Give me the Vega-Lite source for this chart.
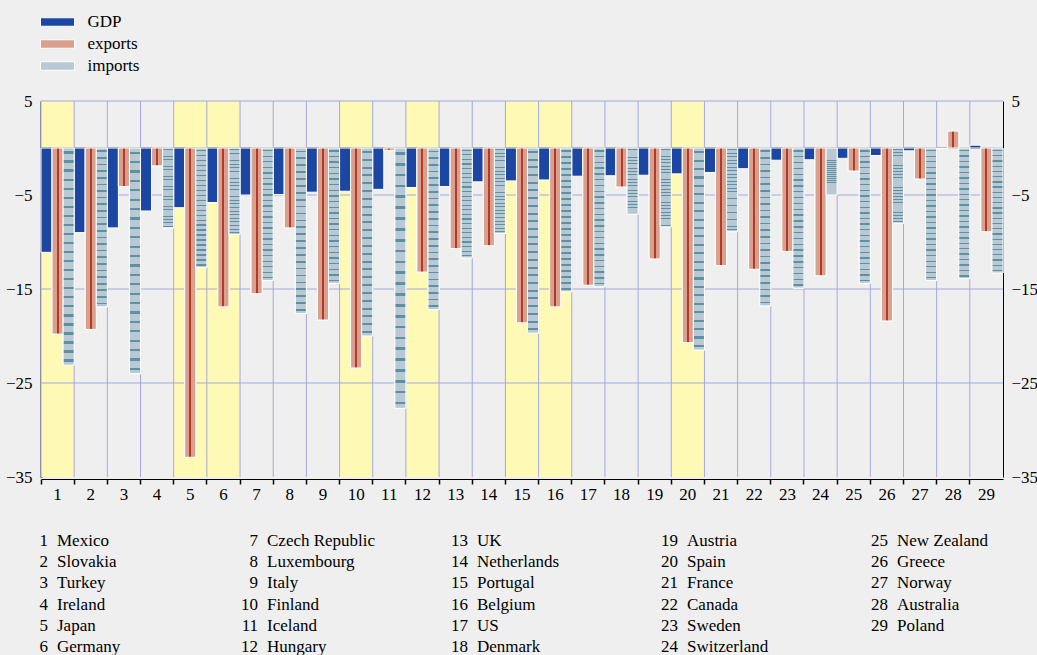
{
  "$schema": "https://vega.github.io/schema/vega-lite/v6.json",
  "background": "#efefef",
  "padding": {"left": 5, "top": 13, "right": 4, "bottom": 0},
  "config": {
    "font": "Liberation Serif",
    "view": {"stroke": null},
    "axis": {"labelFont": "Liberation Serif", "labelFontSize": 17, "labelColor": "black"},
    "legend": {
      "orient": "none", "legendX": 7.5, "legendY": -88, "title": null, "padding": 0,
      "labelFont": "Liberation Serif", "labelFontSize": 17, "labelColor": "black",
      "symbolType": "M-2,-0.5H2V0.5H-2Z", "symbolSize": 289, "rowPadding": 5, "labelOffset": 21,
      "symbolStrokeColor": "white", "symbolStrokeWidth": 1, "symbolOpacity": 1
    }
  },
  "datasets": {
    "countries": [
      {"num": 1, "name": "Mexico", "hl": true},
      {"num": 2, "name": "Slovakia", "hl": false},
      {"num": 3, "name": "Turkey", "hl": false},
      {"num": 4, "name": "Ireland", "hl": false},
      {"num": 5, "name": "Japan", "hl": true},
      {"num": 6, "name": "Germany", "hl": true},
      {"num": 7, "name": "Czech Republic", "hl": false},
      {"num": 8, "name": "Luxembourg", "hl": false},
      {"num": 9, "name": "Italy", "hl": false},
      {"num": 10, "name": "Finland", "hl": true},
      {"num": 11, "name": "Iceland", "hl": false},
      {"num": 12, "name": "Hungary", "hl": true},
      {"num": 13, "name": "UK", "hl": false},
      {"num": 14, "name": "Netherlands", "hl": false},
      {"num": 15, "name": "Portugal", "hl": true},
      {"num": 16, "name": "Belgium", "hl": true},
      {"num": 17, "name": "US", "hl": false},
      {"num": 18, "name": "Denmark", "hl": false},
      {"num": 19, "name": "Austria", "hl": false},
      {"num": 20, "name": "Spain", "hl": true},
      {"num": 21, "name": "France", "hl": false},
      {"num": 22, "name": "Canada", "hl": false},
      {"num": 23, "name": "Sweden", "hl": false},
      {"num": 24, "name": "Switzerland", "hl": false},
      {"num": 25, "name": "New Zealand", "hl": false},
      {"num": 26, "name": "Greece", "hl": false},
      {"num": 27, "name": "Norway", "hl": false},
      {"num": 28, "name": "Australia", "hl": false},
      {"num": 29, "name": "Poland", "hl": false}
    ],
    "bars": [
      {"num": 1, "series": "GDP", "value": -11.1}, {"num": 1, "series": "exports", "value": -19.8}, {"num": 1, "series": "imports", "value": -23.1},
      {"num": 2, "series": "GDP", "value": -9.0}, {"num": 2, "series": "exports", "value": -19.3}, {"num": 2, "series": "imports", "value": -16.9},
      {"num": 3, "series": "GDP", "value": -8.5}, {"num": 3, "series": "exports", "value": -4.1}, {"num": 3, "series": "imports", "value": -24.0},
      {"num": 4, "series": "GDP", "value": -6.7}, {"num": 4, "series": "exports", "value": -1.9}, {"num": 4, "series": "imports", "value": -8.5},
      {"num": 5, "series": "GDP", "value": -6.35}, {"num": 5, "series": "exports", "value": -32.9}, {"num": 5, "series": "imports", "value": -12.7},
      {"num": 6, "series": "GDP", "value": -5.8}, {"num": 6, "series": "exports", "value": -16.9}, {"num": 6, "series": "imports", "value": -9.2},
      {"num": 7, "series": "GDP", "value": -5.0}, {"num": 7, "series": "exports", "value": -15.5}, {"num": 7, "series": "imports", "value": -14.1},
      {"num": 8, "series": "GDP", "value": -4.95}, {"num": 8, "series": "exports", "value": -8.5}, {"num": 8, "series": "imports", "value": -17.6},
      {"num": 9, "series": "GDP", "value": -4.7}, {"num": 9, "series": "exports", "value": -18.3}, {"num": 9, "series": "imports", "value": -14.4},
      {"num": 10, "series": "GDP", "value": -4.6}, {"num": 10, "series": "exports", "value": -23.4}, {"num": 10, "series": "imports", "value": -20.0},
      {"num": 11, "series": "GDP", "value": -4.4}, {"num": 11, "series": "exports", "value": -0.25}, {"num": 11, "series": "imports", "value": -27.7},
      {"num": 12, "series": "GDP", "value": -4.2}, {"num": 12, "series": "exports", "value": -13.2}, {"num": 12, "series": "imports", "value": -17.2},
      {"num": 13, "series": "GDP", "value": -4.1}, {"num": 13, "series": "exports", "value": -10.7}, {"num": 13, "series": "imports", "value": -11.7},
      {"num": 14, "series": "GDP", "value": -3.6}, {"num": 14, "series": "exports", "value": -10.4}, {"num": 14, "series": "imports", "value": -9.1},
      {"num": 15, "series": "GDP", "value": -3.5}, {"num": 15, "series": "exports", "value": -18.6}, {"num": 15, "series": "imports", "value": -19.7},
      {"num": 16, "series": "GDP", "value": -3.4}, {"num": 16, "series": "exports", "value": -16.9}, {"num": 16, "series": "imports", "value": -15.3},
      {"num": 17, "series": "GDP", "value": -3.0}, {"num": 17, "series": "exports", "value": -14.6}, {"num": 17, "series": "imports", "value": -14.75},
      {"num": 18, "series": "GDP", "value": -2.95}, {"num": 18, "series": "exports", "value": -4.15}, {"num": 18, "series": "imports", "value": -7.05},
      {"num": 19, "series": "GDP", "value": -2.9}, {"num": 19, "series": "exports", "value": -11.8}, {"num": 19, "series": "imports", "value": -8.4},
      {"num": 20, "series": "GDP", "value": -2.75}, {"num": 20, "series": "exports", "value": -20.7}, {"num": 20, "series": "imports", "value": -21.5},
      {"num": 21, "series": "GDP", "value": -2.6}, {"num": 21, "series": "exports", "value": -12.5}, {"num": 21, "series": "imports", "value": -8.9},
      {"num": 22, "series": "GDP", "value": -2.2}, {"num": 22, "series": "exports", "value": -12.9}, {"num": 22, "series": "imports", "value": -16.8},
      {"num": 23, "series": "GDP", "value": -1.3}, {"num": 23, "series": "exports", "value": -11.0}, {"num": 23, "series": "imports", "value": -14.9},
      {"num": 24, "series": "GDP", "value": -1.25}, {"num": 24, "series": "exports", "value": -13.6}, {"num": 24, "series": "imports", "value": -5.0},
      {"num": 25, "series": "GDP", "value": -1.1}, {"num": 25, "series": "exports", "value": -2.45}, {"num": 25, "series": "imports", "value": -14.4},
      {"num": 26, "series": "GDP", "value": -0.8}, {"num": 26, "series": "exports", "value": -18.4}, {"num": 26, "series": "imports", "value": -8.0},
      {"num": 27, "series": "GDP", "value": -0.3}, {"num": 27, "series": "exports", "value": -3.3}, {"num": 27, "series": "imports", "value": -14.1},
      {"num": 28, "series": "GDP", "value": -0.05}, {"num": 28, "series": "exports", "value": 1.8}, {"num": 28, "series": "imports", "value": -13.9},
      {"num": 29, "series": "GDP", "value": 0.3}, {"num": 29, "series": "exports", "value": -8.9}, {"num": 29, "series": "imports", "value": -13.3}
    ]
  },
  "vconcat": [
    {
      "width": 962,
      "height": 376,
      "resolve": {"axis": {"y": "independent"}},
      "layer": [
        {
          "data": {"name": "countries"},
          "transform": [{"filter": "datum.hl"}],
          "mark": {"type": "rect", "fill": "#fef9b4"},
          "encoding": {
            "x": {
              "field": "num", "type": "ordinal", "title": null,
              "scale": {"paddingInner": 0, "paddingOuter": 0},
              "axis": {"title": null, "orient": "bottom", "labelAngle": 0, "ticks": true, "tickColor": "black", "tickSize": 5, "tickWidth": 1.5, "domainColor": "black", "domainWidth": 1, "grid": false, "labelPadding": 2, "offset": 2, "labelFontSize": 17, "bandPosition": 0}
            },
            "y": {"datum": 5, "type": "quantitative", "axis": null},
            "y2": {"datum": -35}
          }
        },
        {
          "data": {"name": "countries"},
          "mark": {"type": "rule", "color": "#a3a9e0", "strokeWidth": 1},
          "encoding": {
            "x": {"field": "num", "type": "ordinal", "bandPosition": 0},
            "y": {"datum": 5, "type": "quantitative", "axis": null},
            "y2": {"datum": -35}
          }
        },
        {"data": {"values": [{}]}, "mark": {"type": "rule", "color": "#a3a9e0", "strokeWidth": 1}, "encoding": {"y": {"datum": 5, "type": "quantitative", "axis": null}}},
        {"data": {"values": [{}]}, "mark": {"type": "rule", "color": "#a3a9e0", "strokeWidth": 1}, "encoding": {"y": {"datum": -5, "type": "quantitative", "axis": null}}},
        {"data": {"values": [{}]}, "mark": {"type": "rule", "color": "#a3a9e0", "strokeWidth": 1}, "encoding": {"y": {"datum": -15, "type": "quantitative", "axis": null}}},
        {"data": {"values": [{}]}, "mark": {"type": "rule", "color": "#a3a9e0", "strokeWidth": 1}, "encoding": {"y": {"datum": -25, "type": "quantitative", "axis": null}}},
        {"data": {"values": [{}]}, "mark": {"type": "rule", "color": "#444444", "strokeWidth": 1.5}, "encoding": {"y": {"datum": 0, "type": "quantitative", "axis": null}}},
        {
          "data": {"name": "bars"},
          "mark": {"type": "bar", "stroke": "white", "strokeWidth": 1},
          "encoding": {
            "x": {"field": "num", "type": "ordinal"},
            "xOffset": {"field": "series", "type": "nominal", "scale": {"domain": ["GDP", "exports", "imports"], "paddingInner": 0, "paddingOuter": 0}},
            "y": {
              "field": "value", "type": "quantitative",
              "scale": {"domain": [-35, 5], "nice": false, "zero": true},
              "axis": {"title": null, "orient": "left", "values": [5, -5, -15, -25, -35], "grid": false, "ticks": false, "domainColor": "black", "domainWidth": 2, "labelPadding": 9, "labelFlush": false, "labelFontSize": 17}
            },
            "fill": {
              "field": "series", "type": "nominal",
              "scale": {"domain": ["GDP", "exports", "imports"], "range": ["#1b46a2", "#d9a08d", "#b9c9d3"]},
              "legend": {}
            }
          }
        },
        {
          "data": {"name": "bars"},
          "transform": [{"filter": "datum.series === 'exports'"}],
          "mark": {
            "type": "bar", "stroke": "white", "strokeWidth": 1,
            "fill": {"gradient": "linear", "x1": 0, "y1": 0, "x2": 1, "y2": 0, "stops": [
              {"offset": 0, "color": "#d9a08d"}, {"offset": 0.41, "color": "#d9a08d"},
              {"offset": 0.41, "color": "#b3392a"}, {"offset": 0.59, "color": "#b3392a"},
              {"offset": 0.59, "color": "#d9a08d"}, {"offset": 1, "color": "#d9a08d"}
            ]}
          },
          "encoding": {
            "x": {"field": "num", "type": "ordinal"},
            "xOffset": {"field": "series", "type": "nominal"},
            "y": {
              "field": "value", "type": "quantitative",
              "axis": {"title": null, "orient": "right", "values": [5, -5, -15, -25, -35], "grid": false, "ticks": false, "domainColor": "black", "domainWidth": 1, "labelPadding": 8, "labelFlush": false, "labelFontSize": 17}
            }
          }
        },
        {
          "data": {"name": "bars"},
          "transform": [{"filter": "datum.series === 'imports'"}],
          "mark": {
            "type": "bar", "stroke": "white", "strokeWidth": 1,
            "fill": {"gradient": "linear", "x1": 0, "y1": 0, "x2": 0, "y2": 1, "stops": [
              {"offset": 0, "color": "#b9c9d3"},
              {"offset": 0.0156, "color": "#b9c9d3"}, {"offset": 0.0156, "color": "#5d90a2"}, {"offset": 0.026, "color": "#5d90a2"}, {"offset": 0.026, "color": "#b9c9d3"},
              {"offset": 0.0573, "color": "#b9c9d3"}, {"offset": 0.0573, "color": "#5d90a2"}, {"offset": 0.0677, "color": "#5d90a2"}, {"offset": 0.0677, "color": "#b9c9d3"},
              {"offset": 0.099, "color": "#b9c9d3"}, {"offset": 0.099, "color": "#5d90a2"}, {"offset": 0.1094, "color": "#5d90a2"}, {"offset": 0.1094, "color": "#b9c9d3"},
              {"offset": 0.1406, "color": "#b9c9d3"}, {"offset": 0.1406, "color": "#5d90a2"}, {"offset": 0.151, "color": "#5d90a2"}, {"offset": 0.151, "color": "#b9c9d3"},
              {"offset": 0.1823, "color": "#b9c9d3"}, {"offset": 0.1823, "color": "#5d90a2"}, {"offset": 0.1927, "color": "#5d90a2"}, {"offset": 0.1927, "color": "#b9c9d3"},
              {"offset": 0.224, "color": "#b9c9d3"}, {"offset": 0.224, "color": "#5d90a2"}, {"offset": 0.2344, "color": "#5d90a2"}, {"offset": 0.2344, "color": "#b9c9d3"},
              {"offset": 0.2656, "color": "#b9c9d3"}, {"offset": 0.2656, "color": "#5d90a2"}, {"offset": 0.276, "color": "#5d90a2"}, {"offset": 0.276, "color": "#b9c9d3"},
              {"offset": 0.3073, "color": "#b9c9d3"}, {"offset": 0.3073, "color": "#5d90a2"}, {"offset": 0.3177, "color": "#5d90a2"}, {"offset": 0.3177, "color": "#b9c9d3"},
              {"offset": 0.349, "color": "#b9c9d3"}, {"offset": 0.349, "color": "#5d90a2"}, {"offset": 0.3594, "color": "#5d90a2"}, {"offset": 0.3594, "color": "#b9c9d3"},
              {"offset": 0.3906, "color": "#b9c9d3"}, {"offset": 0.3906, "color": "#5d90a2"}, {"offset": 0.401, "color": "#5d90a2"}, {"offset": 0.401, "color": "#b9c9d3"},
              {"offset": 0.4323, "color": "#b9c9d3"}, {"offset": 0.4323, "color": "#5d90a2"}, {"offset": 0.4427, "color": "#5d90a2"}, {"offset": 0.4427, "color": "#b9c9d3"},
              {"offset": 0.474, "color": "#b9c9d3"}, {"offset": 0.474, "color": "#5d90a2"}, {"offset": 0.4844, "color": "#5d90a2"}, {"offset": 0.4844, "color": "#b9c9d3"},
              {"offset": 0.5156, "color": "#b9c9d3"}, {"offset": 0.5156, "color": "#5d90a2"}, {"offset": 0.526, "color": "#5d90a2"}, {"offset": 0.526, "color": "#b9c9d3"},
              {"offset": 0.5573, "color": "#b9c9d3"}, {"offset": 0.5573, "color": "#5d90a2"}, {"offset": 0.5677, "color": "#5d90a2"}, {"offset": 0.5677, "color": "#b9c9d3"},
              {"offset": 0.599, "color": "#b9c9d3"}, {"offset": 0.599, "color": "#5d90a2"}, {"offset": 0.6094, "color": "#5d90a2"}, {"offset": 0.6094, "color": "#b9c9d3"},
              {"offset": 0.6406, "color": "#b9c9d3"}, {"offset": 0.6406, "color": "#5d90a2"}, {"offset": 0.651, "color": "#5d90a2"}, {"offset": 0.651, "color": "#b9c9d3"},
              {"offset": 0.6823, "color": "#b9c9d3"}, {"offset": 0.6823, "color": "#5d90a2"}, {"offset": 0.6927, "color": "#5d90a2"}, {"offset": 0.6927, "color": "#b9c9d3"},
              {"offset": 0.724, "color": "#b9c9d3"}, {"offset": 0.724, "color": "#5d90a2"}, {"offset": 0.7344, "color": "#5d90a2"}, {"offset": 0.7344, "color": "#b9c9d3"},
              {"offset": 0.7656, "color": "#b9c9d3"}, {"offset": 0.7656, "color": "#5d90a2"}, {"offset": 0.776, "color": "#5d90a2"}, {"offset": 0.776, "color": "#b9c9d3"},
              {"offset": 0.8073, "color": "#b9c9d3"}, {"offset": 0.8073, "color": "#5d90a2"}, {"offset": 0.8177, "color": "#5d90a2"}, {"offset": 0.8177, "color": "#b9c9d3"},
              {"offset": 0.849, "color": "#b9c9d3"}, {"offset": 0.849, "color": "#5d90a2"}, {"offset": 0.8594, "color": "#5d90a2"}, {"offset": 0.8594, "color": "#b9c9d3"},
              {"offset": 0.8906, "color": "#b9c9d3"}, {"offset": 0.8906, "color": "#5d90a2"}, {"offset": 0.901, "color": "#5d90a2"}, {"offset": 0.901, "color": "#b9c9d3"},
              {"offset": 0.9323, "color": "#b9c9d3"}, {"offset": 0.9323, "color": "#5d90a2"}, {"offset": 0.9427, "color": "#5d90a2"}, {"offset": 0.9427, "color": "#b9c9d3"},
              {"offset": 0.974, "color": "#b9c9d3"}, {"offset": 0.974, "color": "#5d90a2"}, {"offset": 0.9844, "color": "#5d90a2"}, {"offset": 0.9844, "color": "#b9c9d3"},
              {"offset": 1, "color": "#b9c9d3"}
            ]}
          },
          "encoding": {
            "x": {"field": "num", "type": "ordinal"},
            "xOffset": {"field": "series", "type": "nominal"},
            "y": {"field": "value", "type": "quantitative", "axis": null}
          }
        }
      ]
    },
    {
      "width": 840,
      "height": 128,
      "data": {"name": "countries"},
      "transform": [
        {"calculate": "floor((datum.num - 1) / 6)", "as": "col"},
        {"calculate": "(datum.num - 1) % 6", "as": "row"}
      ],
      "encoding": {
        "x": {"field": "col", "type": "ordinal", "scale": {"type": "point", "padding": 0}, "axis": null},
        "y": {"field": "row", "type": "ordinal", "scale": {"type": "point", "padding": 0.5}, "axis": null}
      },
      "layer": [
        {"mark": {"type": "text", "align": "right", "baseline": "middle", "dx": 7, "font": "Liberation Serif", "fontSize": 17, "color": "black"}, "encoding": {"text": {"field": "num", "type": "nominal"}}},
        {"mark": {"type": "text", "align": "left", "baseline": "middle", "dx": 16, "font": "Liberation Serif", "fontSize": 17, "color": "black"}, "encoding": {"text": {"field": "name", "type": "nominal"}}}
      ]
    }
  ],
  "spacing": 28
}
